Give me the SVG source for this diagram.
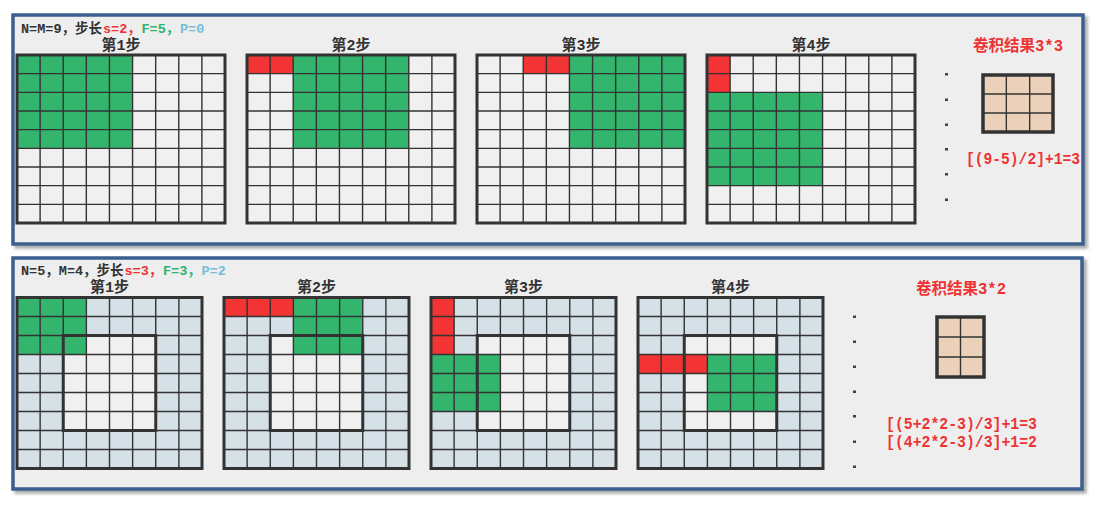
<svg xmlns="http://www.w3.org/2000/svg" xmlns:xlink="http://www.w3.org/1999/xlink" width="1099" height="507" viewBox="0 0 1099 507">
<style>
.panel{fill:#EEEEEE;stroke:#3B5F8E;stroke-width:3.5;filter:url(#sh)}
.bg{fill:#F0F0F0}
.pad{fill:#D5E1E6}
.g{fill:#33B56E}
.r{fill:#F23434}
.res{fill:#EBD1B9}
.thin{fill:none;stroke:#333;stroke-width:1.4}
.frame{fill:none;stroke:#333;stroke-width:3}
.dot{fill:#4A4030}
.ttl{font-family:"Liberation Mono","Noto Sans CJK SC",monospace;font-weight:bold;font-size:15px;fill:#333;text-anchor:middle}
.hdr{font-family:"Liberation Mono","Noto Sans CJK SC",monospace;font-weight:bold;font-size:13.5px}
.dk{fill:#333}
.hr{fill:#F03434}
.hg{fill:#2EB46C}
.hb{fill:#74BEDC}
.red{font-family:"Liberation Mono","Noto Sans CJK SC",monospace;font-weight:bold;font-size:16px;fill:#EE3333}
</style>
<defs>
<filter id="sh" x="-5%" y="-5%" width="110%" height="115%">
<feDropShadow dx="3" dy="3" stdDeviation="1.5" flood-color="#777" flood-opacity="0.6"/>
</filter>
<path id="lt" d="M23.11,0V168M46.22,0V168M69.33,0V168M92.44,0V168M115.56,0V168M138.67,0V168M161.78,0V168M184.89,0V168M0,18.67H208M0,37.33H208M0,56H208M0,74.67H208M0,93.33H208M0,112H208M0,130.67H208M0,149.33H208"/>
<path id="lb" d="M23.13,0V171M46.25,0V171M69.38,0V171M92.5,0V171M115.63,0V171M138.75,0V171M161.88,0V171M0,19H185M0,38H185M0,57H185M0,76H185M0,95H185M0,114H185M0,133H185M0,152H185"/>
</defs>
<rect width="1099" height="507" fill="#FFFFFF"/>

<g id="panel-top">
<rect class="panel" x="13" y="15" width="1070" height="229"/>
<text class="hdr dk" x="21" y="33">N=M=9，步长</text>
<text class="hdr hr" x="103" y="33">s=2，</text>
<text class="hdr hg" x="141.5" y="33">F=5，</text>
<text class="hdr hb" x="180" y="33">P=0</text>
</g>

<g id="top-step1">
<text class="ttl" x="121" y="50">第1步</text>
<g transform="translate(17,55)">
<rect class="bg" width="208" height="168"/>
<rect class="g" x="0" y="0" width="115.56" height="93.33"/>
<use xlink:href="#lt" class="thin"/>
<rect class="frame" width="208" height="168"/>
</g>
</g>

<g id="top-step2">
<text class="ttl" x="351" y="50">第2步</text>
<g transform="translate(247,55)">
<rect class="bg" width="208" height="168"/>
<rect class="r" x="0" y="0" width="46.22" height="18.67"/>
<rect class="g" x="46.22" y="0" width="115.56" height="93.33"/>
<use xlink:href="#lt" class="thin"/>
<rect class="frame" width="208" height="168"/>
</g>
</g>

<g id="top-step3">
<text class="ttl" x="581" y="50">第3步</text>
<g transform="translate(477,55)">
<rect class="bg" width="208" height="168"/>
<rect class="r" x="46.22" y="0" width="46.22" height="18.67"/>
<rect class="g" x="92.44" y="0" width="115.56" height="93.33"/>
<use xlink:href="#lt" class="thin"/>
<rect class="frame" width="208" height="168"/>
</g>
</g>

<g id="top-step4">
<text class="ttl" x="811" y="50">第4步</text>
<g transform="translate(707,55)">
<rect class="bg" width="208" height="168"/>
<rect class="r" x="0" y="0" width="23.11" height="37.33"/>
<rect class="g" x="0" y="37.33" width="115.56" height="93.33"/>
<use xlink:href="#lt" class="thin"/>
<rect class="frame" width="208" height="168"/>
</g>
</g>

<g id="top-dots">
<rect class="dot" x="945" y="73" width="3" height="2.5"/>
<rect class="dot" x="945" y="98.5" width="3" height="2.5"/>
<rect class="dot" x="945" y="123.5" width="3" height="2.5"/>
<rect class="dot" x="945" y="148" width="3" height="2.5"/>
<rect class="dot" x="945" y="173" width="3" height="2.5"/>
<rect class="dot" x="945" y="198.5" width="3" height="2.5"/>
</g>

<g id="top-result">
<text class="red" x="1018" y="51" text-anchor="middle" textLength="90" lengthAdjust="spacingAndGlyphs">卷积结果3*3</text>
<g transform="translate(983,75)">
<rect class="res" width="70" height="57"/>
<path class="thin" d="M23.33,0V57M46.67,0V57M0,19H70M0,38H70"/>
<rect class="frame" width="70" height="57" style="stroke-width:3.5"/>
</g>
<text class="red" x="966" y="164" textLength="114" lengthAdjust="spacingAndGlyphs">[(9-5)/2]+1=3</text>
</g>

<g id="panel-bottom">
<rect class="panel" x="13" y="258" width="1069" height="231"/>
<text class="hdr dk" x="21" y="275">N=5，M=4，步长</text>
<text class="hdr hr" x="124.5" y="275">s=3，</text>
<text class="hdr hg" x="163" y="275">F=3，</text>
<text class="hdr hb" x="201.5" y="275">P=2</text>
</g>

<g id="bottom-step1">
<text class="ttl" x="109.5" y="292">第1步</text>
<g transform="translate(17,297.5)">
<rect class="pad" width="185" height="171"/>
<rect class="bg" x="46.25" y="38" width="92.5" height="95"/>
<rect class="g" x="0" y="0" width="69.38" height="57"/>
<use xlink:href="#lb" class="thin"/>
<rect class="frame" x="46.25" y="38" width="92.5" height="95"/>
<rect class="frame" width="185" height="171"/>
</g>
</g>

<g id="bottom-step2">
<text class="ttl" x="316.5" y="292">第2步</text>
<g transform="translate(224,297.5)">
<rect class="pad" width="185" height="171"/>
<rect class="bg" x="46.25" y="38" width="92.5" height="95"/>
<rect class="r" x="0" y="0" width="69.38" height="19"/>
<rect class="g" x="69.38" y="0" width="69.38" height="57"/>
<use xlink:href="#lb" class="thin"/>
<rect class="frame" x="46.25" y="38" width="92.5" height="95"/>
<rect class="frame" width="185" height="171"/>
</g>
</g>

<g id="bottom-step3">
<text class="ttl" x="523.5" y="292">第3步</text>
<g transform="translate(431,297.5)">
<rect class="pad" width="185" height="171"/>
<rect class="bg" x="46.25" y="38" width="92.5" height="95"/>
<rect class="r" x="0" y="0" width="23.13" height="57"/>
<rect class="g" x="0" y="57" width="69.38" height="57"/>
<use xlink:href="#lb" class="thin"/>
<rect class="frame" x="46.25" y="38" width="92.5" height="95"/>
<rect class="frame" width="185" height="171"/>
</g>
</g>

<g id="bottom-step4">
<text class="ttl" x="730.5" y="292">第4步</text>
<g transform="translate(638,297.5)">
<rect class="pad" width="185" height="171"/>
<rect class="bg" x="46.25" y="38" width="92.5" height="95"/>
<rect class="r" x="0" y="57" width="69.38" height="19"/>
<rect class="g" x="69.38" y="57" width="69.38" height="57"/>
<use xlink:href="#lb" class="thin"/>
<rect class="frame" x="46.25" y="38" width="92.5" height="95"/>
<rect class="frame" width="185" height="171"/>
</g>
</g>

<g id="bottom-dots">
<rect class="dot" x="853" y="315.5" width="3" height="2.5"/>
<rect class="dot" x="853" y="340.5" width="3" height="2.5"/>
<rect class="dot" x="853" y="365.5" width="3" height="2.5"/>
<rect class="dot" x="853" y="390.5" width="3" height="2.5"/>
<rect class="dot" x="853" y="415" width="3" height="2.5"/>
<rect class="dot" x="853" y="440.5" width="3" height="2.5"/>
<rect class="dot" x="853" y="465.5" width="3" height="2.5"/>
</g>

<g id="bottom-result">
<text class="red" x="961" y="294" text-anchor="middle" textLength="90" lengthAdjust="spacingAndGlyphs">卷积结果3*2</text>
<g transform="translate(937,317)">
<rect class="res" width="47" height="60"/>
<path class="thin" d="M23.5,0V60M0,20H47M0,40H47"/>
<rect class="frame" width="47" height="60" style="stroke-width:3.5"/>
</g>
<text class="red" x="886" y="429" textLength="151" lengthAdjust="spacingAndGlyphs">[(5+2*2-3)/3]+1=3</text>
<text class="red" x="886" y="446.5" textLength="151" lengthAdjust="spacingAndGlyphs">[(4+2*2-3)/3]+1=2</text>
</g>
</svg>
